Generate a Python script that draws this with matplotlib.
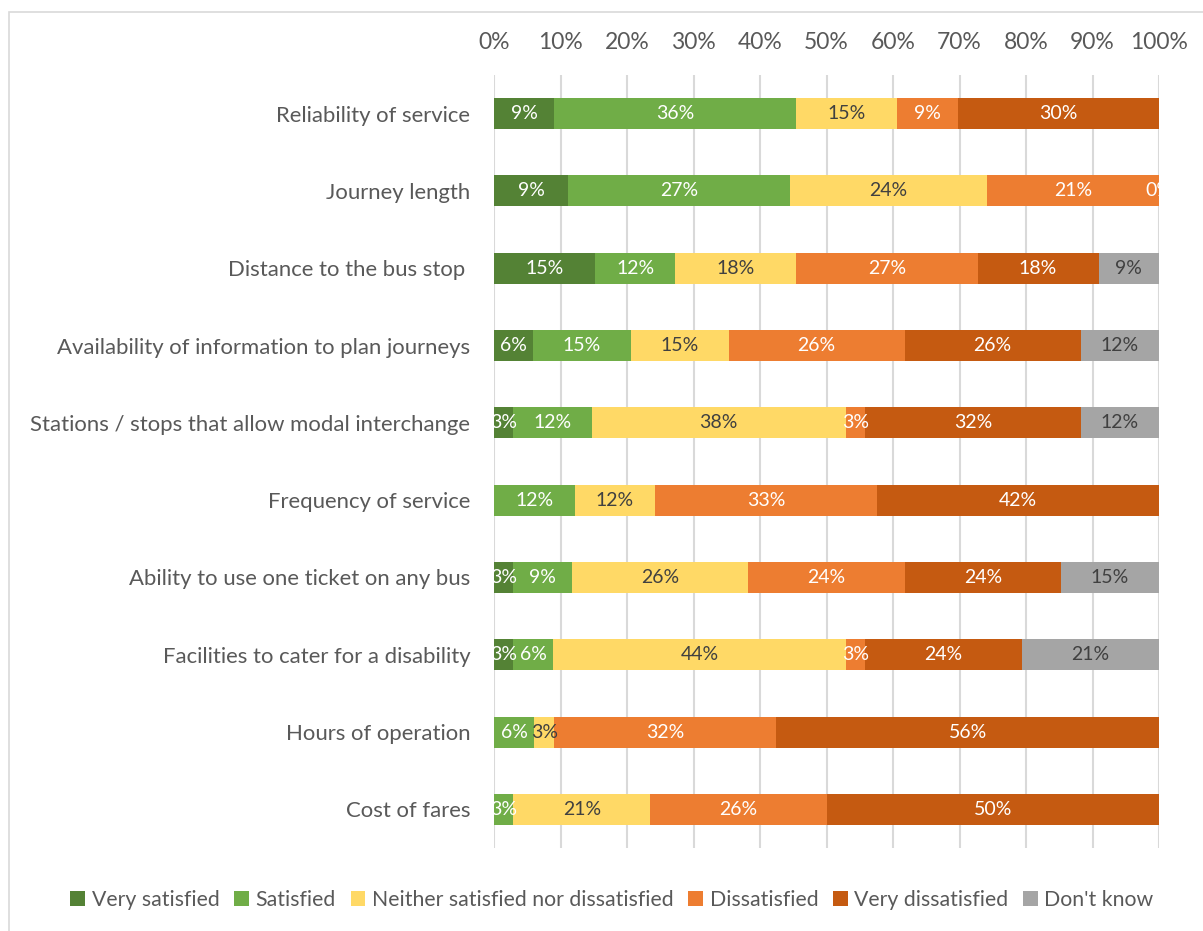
import numpy as np
import matplotlib
matplotlib.use("Agg")
import matplotlib.pyplot as plt
from matplotlib.patches import Rectangle, Patch

plt.rcParams['font.family'] = ['Lato', 'DejaVu Sans']

categories = [
    "Reliability of service",
    "Journey length",
    "Distance to the bus stop ",
    "Availability of information to plan journeys",
    "Stations / stops that allow modal interchange",
    "Frequency of service",
    "Ability to use one ticket on any bus",
    "Facilities to cater for a disability",
    "Hours of operation",
    "Cost of fares",
]
nan = np.nan
very_satisfied = [9.1, 9.1, 15.2, 5.9, 2.9, nan, 2.9, 2.9, nan, nan]
satisfied = [36.4, 27.3, 12.1, 14.7, 11.8, 12.1, 8.8, 5.9, 5.9, 2.9]
neither = [15.2, 24.2, 18.2, 14.7, 38.2, 12.1, 26.5, 44.1, 2.9, 20.6]
dissatisfied = [9.1, 21.2, 27.3, 26.5, 2.9, 33.3, 23.5, 2.9, 32.4, 26.5]
very_dissatisfied = [30.3, 0.0, 18.2, 26.5, 32.4, 42.4, 23.5, 23.5, 55.9, 50.0]
dont_know = [nan, nan, 9.1, 11.8, 11.8, nan, 14.7, 20.6, nan, nan]

series_names = ["Very satisfied", "Satisfied", "Neither satisfied nor dissatisfied",
                "Dissatisfied", "Very dissatisfied", "Don't know"]
series = [very_satisfied, satisfied, neither, dissatisfied, very_dissatisfied, dont_know]
colors = ["#548235", "#70AD47", "#FFD966", "#ED7D31", "#C55A11", "#A5A5A5"]
label_colors = ["white", "white", "#404040", "white", "white", "#404040"]
tick_labels = [f"{v}%" for v in range(0, 101, 10)]

W, H = 1203, 931
fig = plt.figure(figsize=(W / 100, H / 100), dpi=100)
ax = fig.add_axes([494 / W, 1 - 848 / H, (1159 - 494) / W, (848 - 75) / H])

data = np.array(series, dtype=float)  # shape (6, 10)
rowsum = np.nansum(data, axis=0)
shares = np.nan_to_num(data) / rowsum * 100

y = np.arange(len(categories))
left = np.zeros(len(categories))
for i, name in enumerate(series_names):
    w = shares[i]
    ax.barh(y, w, left=left, height=0.4, color=colors[i], label=name, zorder=2)
    for j in range(len(categories)):
        if not np.isnan(data[i, j]):
            ax.text(left[j] + w[j] / 2, y[j], f"{data[i, j]:.0f}%",
                    ha='center', va='center', color=label_colors[i],
                    fontsize=14, zorder=4, clip_on=True)
    left = left + w

ax.set_xlim(0, 100)
ax.set_ylim(len(categories) - 0.5, -0.5)
ax.set_yticks(y)
ax.set_yticklabels(categories, fontsize=15.9, color="#595959")
ax.set_xticks(np.arange(0, 101, 10))
ax.set_xticklabels(tick_labels, fontsize=16.5, color="#595959")
ax.xaxis.tick_top()
ax.tick_params(axis='x', length=0, pad=16)
ax.tick_params(axis='y', length=0, pad=17)
ax.grid(axis='x', color="#D9D9D9", linewidth=1.5, zorder=0)
ax.set_axisbelow(True)
for s in ax.spines.values():
    s.set_visible(False)

handles = [Patch(facecolor=c, label=n) for c, n in zip(colors, series_names)]
fig.legend(handles=handles, loc='center', bbox_to_anchor=(612 / W, 1 - 900 / H),
           ncol=6, frameon=False, fontsize=15.3, labelcolor="#595959",
           handlelength=0.7, handleheight=0.7, handletextpad=0.3, columnspacing=0.7)

border = Rectangle((9 / W, -0.05), 1.1, 1 - 12 / H + 0.05, transform=fig.transFigure,
                   fill=False, edgecolor="#D9D9D9", linewidth=1.2)
fig.patches.append(border)

fig.savefig("out.png", dpi=100)
